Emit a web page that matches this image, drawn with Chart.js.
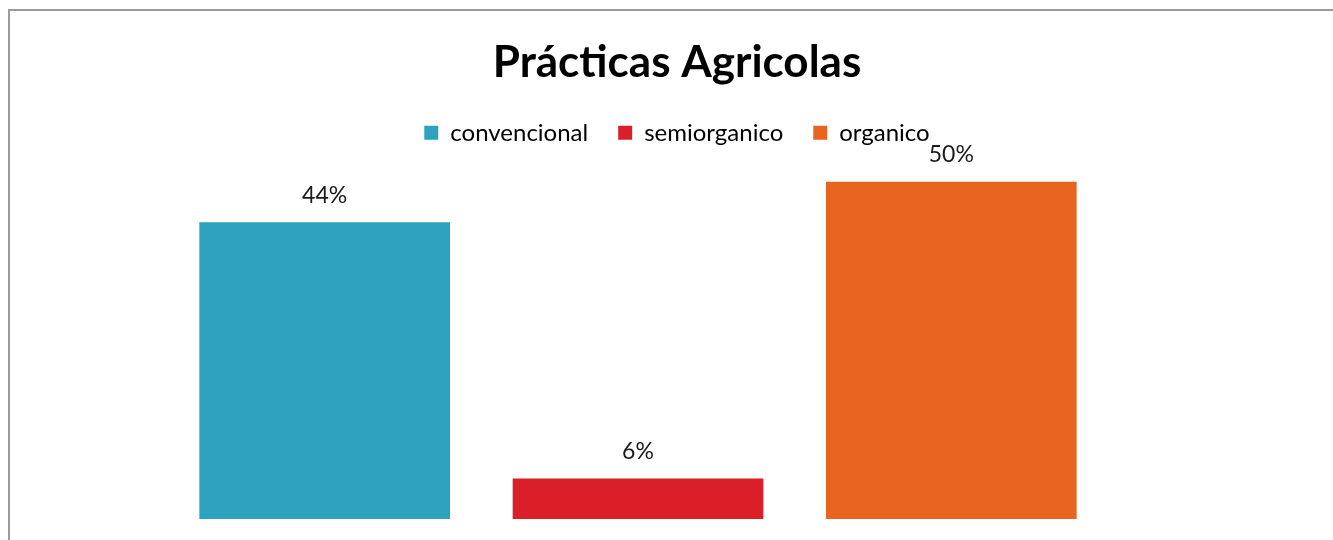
<!DOCTYPE html>
<html>
<head>
<meta charset="utf-8">
<script src="https://cdn.jsdelivr.net/npm/chart.js@4.4.1/dist/chart.umd.min.js"></script>
<style>
  html, body { margin: 0; padding: 0; background: #fff; overflow: hidden; }
  #wrap { position: relative; width: 1333px; height: 540px; }
  #frame { position: absolute; left: 8px; top: 9px; right: -10px; bottom: -10px;
           border-left: 2px solid #9a9a9a; border-top: 2px solid #9a9a9a; pointer-events: none; }
  canvas { position: absolute; left: 0; top: 0; }
</style>
</head>
<body>
<div id="wrap">
  <canvas id="c" width="1333" height="540"></canvas>
  <div id="frame"></div>
</div>
<script>
const chartTitle = 'Prácticas Agricolas';
const categories = ['convencional', 'semiorganico', 'organico'];
const values = [44, 6, 50];
const colors = ['#2CA2BF', '#DA1F28', '#E9641E'];
const yMin = 0;
const yMax = 54;

const FONT = 'Lato, "Open Sans", sans-serif';

const datasets = categories.map((name, i) => ({
  label: name,
  data: categories.map((c, j) => (j === i ? values[i] : null)),
  backgroundColor: colors[i],
  borderWidth: 0,
  grouped: false,
  categoryPercentage: 1.0,
  barPercentage: 0.8
}));

const valueLabels = {
  id: 'valueLabels',
  afterDatasetsDraw(chart) {
    const ctx = chart.ctx;
    ctx.save();
    ctx.font = '23px ' + FONT;
    ctx.fillStyle = '#1a1a1a';
    ctx.textAlign = 'center';
    ctx.textBaseline = 'middle';
    chart.data.datasets.forEach((ds, di) => {
      const meta = chart.getDatasetMeta(di);
      meta.data.forEach((el, idx) => {
        const v = ds.data[idx];
        if (v === null || v === undefined) return;
        ctx.fillText(v + '%', el.x, el.y - 27);
      });
    });
    ctx.restore();
  }
};

new Chart(document.getElementById('c'), {
  type: 'bar',
  data: { labels: categories, datasets },
  options: {
    responsive: false,
    animation: false,
    layout: { padding: { left: 168, right: 147, top: 0, bottom: 21 } },
    plugins: {
      title: {
        display: true,
        text: chartTitle,
        color: '#000',
        font: { family: FONT, size: 44, weight: 'bold' },
        padding: { top: 36, bottom: 2 }
      },
      legend: {
        display: true,
        position: 'top',
        labels: {
          color: '#000',
          font: { family: FONT, size: 24 },
          boxWidth: 14,
          boxHeight: 14,
          padding: 30
        }
      },
      tooltip: { enabled: false }
    },
    scales: {
      x: { display: false },
      y: {
        position: 'right',
        min: yMin,
        max: yMax,
        display: true,
        grid: { display: false, drawTicks: false },
        border: { display: false },
        ticks: { display: false },
        afterFit(scale) { scale.width = 78; }
      }
    }
  },
  plugins: [valueLabels]
});
</script>
</body>
</html>
